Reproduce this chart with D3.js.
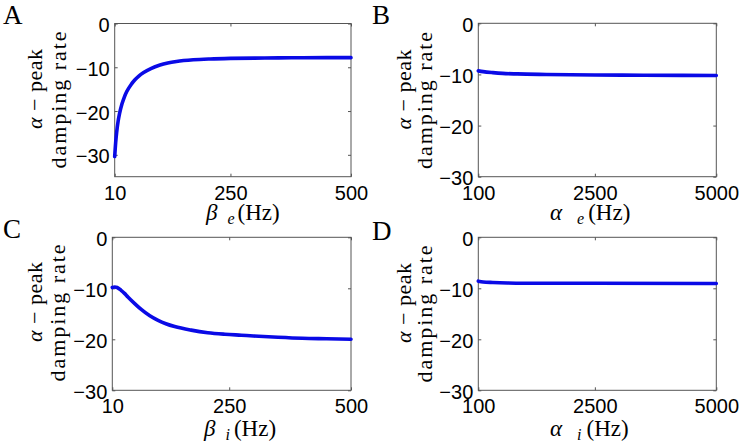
<!DOCTYPE html>
<html><head><meta charset="utf-8">
<script src="https://cdn.jsdelivr.net/npm/d3@7"></script>
<style>body{margin:0;background:#fff} svg{display:block}</style>
</head><body>
<svg id="chart" width="739" height="447"></svg>
<script>
// ---- data ----
const panelLetters = ["A", "B", "C", "D"];

const betaE = [10, 12, 14, 17, 20, 25, 30, 35, 45, 52, 60, 70, 85, 104, 120, 138, 173, 208, 250, 300, 350, 400, 450, 500];
const dampBetaE = [-30.4, -27.2, -24.9, -22.4, -20.6, -18.4, -16.8, -15.55, -13.8, -12.85, -12.0, -11.2, -10.3, -9.5, -9.05, -8.7, -8.3, -8.1, -7.97, -7.9, -7.85, -7.82, -7.8, -7.8];

const alphaE = [100, 200, 400, 600, 900, 1500, 2500, 3500, 5000];
const dampAlphaE = [-9.3, -9.45, -9.65, -9.8, -9.9, -10.0, -10.1, -10.15, -10.2];

const betaI = [10, 15, 20, 28, 35, 42, 56, 70, 87, 104, 120, 138, 172, 206, 241, 275, 300, 350, 400, 450, 500];
const dampBetaI = [-9.85, -9.75, -9.85, -10.4, -11.0, -11.7, -13.0, -14.2, -15.4, -16.3, -16.95, -17.5, -18.2, -18.7, -19.0, -19.2, -19.35, -19.6, -19.8, -19.9, -20.0];

const alphaI = [100, 200, 400, 700, 1000, 2500, 5000];
const dampAlphaI = [-8.6, -8.75, -8.85, -8.95, -9.0, -9.0, -9.05];

const betaTicks = [10, 250, 500];
const alphaTicks = [100, 2500, 5000];
const yTickValues = [-30, -20, -10, 0];
const xSymbols = ["β", "α", "β", "α"];
const xSubs = ["e", "e", "i", "i"];
const xUnit = "(Hz)";
const yLabelLine1 = ["α", " − peak"];
const yLabelLine2 = "damping rate";

// ---- layout ----
const panels = [
  {x: betaE,  y: dampBetaE,  xd: [10, 500],   yd: [-35, 0], xt: betaTicks,
   box: {l: 114.7, r: 351, t: 23.5, b: 176.7}, lp: [3, 24], yl: {l1: 42, l2: 65.5, cy: 100}, xl: {x0: 206, by: 220, g1: 10, g2: 3}},
  {x: alphaE, y: dampAlphaE, xd: [100, 5000], yd: [-30, 0], xt: alphaTicks,
   box: {l: 478.3, r: 716.3, t: 23.3, b: 176.7}, lp: [372, 24], yl: {l1: 410.7, l2: 432.3, cy: 100.5}, xl: {x0: 550, by: 220, g1: 15, g2: 4}},
  {x: betaI,  y: dampBetaI,  xd: [10, 500],   yd: [-30, 0], xt: betaTicks,
   box: {l: 112.3, r: 351, t: 237.3, b: 390.3}, lp: [3, 238], yl: {l1: 41.7, l2: 65, cy: 313}, xl: {x0: 204, by: 436, g1: 10, g2: 4}},
  {x: alphaI, y: dampAlphaI, xd: [100, 5000], yd: [-30, 0], xt: alphaTicks,
   box: {l: 478.3, r: 716.3, t: 237.3, b: 390.3}, lp: [372, 240], yl: {l1: 410.7, l2: 432.3, cy: 314}, xl: {x0: 550, by: 436, g1: 15, g2: 5}}
];

const svg = d3.select("#chart");
const sans = "'Liberation Sans', Arial, Helvetica, sans-serif";
const serif = "'Liberation Serif', 'Times New Roman', serif";
const axisColor = "#555";
const fmt = d => d < 0 ? "\u2212" + Math.abs(d) : String(d);

panels.forEach((p, i) => {
  const b = p.box;
  const xs = d3.scaleLinear().domain(p.xd).range([b.l, b.r]);
  const ys = d3.scaleLinear().domain(p.yd).range([b.b, b.t]);
  const g = svg.append("g");

  g.append("rect").attr("x", b.l).attr("y", b.t).attr("width", b.r - b.l).attr("height", b.b - b.t)
    .attr("fill", "#fff").attr("stroke", axisColor).attr("stroke-width", 1);

  const gl = g.append("g").attr("transform", `translate(${b.l},0)`)
    .call(d3.axisLeft(ys).tickValues(yTickValues).tickSizeInner(-3).tickSizeOuter(0).tickPadding(5).tickFormat(fmt));
  const gr = g.append("g").attr("transform", `translate(${b.r},0)`)
    .call(d3.axisRight(ys).tickValues(yTickValues).tickSizeInner(-3).tickSizeOuter(0).tickFormat(""));
  const gb = g.append("g").attr("transform", `translate(0,${b.b})`)
    .call(d3.axisBottom(xs).tickValues(p.xt).tickSizeInner(-3).tickSizeOuter(0).tickPadding(9).tickFormat(d => String(d)));
  const gt = g.append("g").attr("transform", `translate(0,${b.t})`)
    .call(d3.axisTop(xs).tickValues(p.xt).tickSizeInner(-3).tickSizeOuter(0).tickFormat(""));

  [gl, gr, gb, gt].forEach(a => {
    a.select(".domain").remove();
    a.selectAll("line").attr("stroke", axisColor);
    a.selectAll("text").attr("fill", "#000").style("font-family", sans).style("font-size", "20px");
  });
  gl.selectAll("text").attr("dy", "0.4em");

  const pts = p.x.map((v, k) => [v, p.y[k]]);
  g.append("path").datum(pts)
    .attr("fill", "none").attr("stroke", "#0a0ae6").attr("stroke-width", 3.6)
    .attr("stroke-linejoin", "round").attr("stroke-linecap", "round")
    .attr("d", d3.line().x(d => xs(d[0])).y(d => ys(d[1])).curve(d3.curveMonotoneX));

  svg.append("text").attr("x", p.lp[0]).attr("y", p.lp[1])
    .style("font-family", serif).style("font-size", "27px").text(panelLetters[i]);

  const t1 = svg.append("text").attr("transform", `translate(${p.yl.l1},${p.yl.cy - 11}) rotate(-90)`)
    .attr("text-anchor", "middle").style("font-family", serif).style("font-size", "22px")
    .attr("textLength", 80).attr("lengthAdjust", "spacing");
  t1.append("tspan").style("font-style", "italic").text(yLabelLine1[0]);
  t1.append("tspan").text(yLabelLine1[1]);
  svg.append("text").attr("transform", `translate(${p.yl.l2},${p.yl.cy}) rotate(-90)`)
    .attr("text-anchor", "middle").style("font-family", serif).style("font-size", "22px")
    .attr("textLength", 137).attr("lengthAdjust", "spacing").text(yLabelLine2);

  const tx = svg.append("text").attr("x", p.xl.x0).attr("y", p.xl.by)
    .style("font-family", serif).style("font-size", "23px");
  tx.append("tspan").style("font-style", "italic").text(xSymbols[i]);
  tx.append("tspan").style("font-style", "italic").style("font-size", "16px").attr("dx", p.xl.g1).attr("dy", 4).text(xSubs[i]);
  tx.append("tspan").attr("dy", -4).attr("dx", p.xl.g2).text(xUnit);
});
</script>
</body></html>
